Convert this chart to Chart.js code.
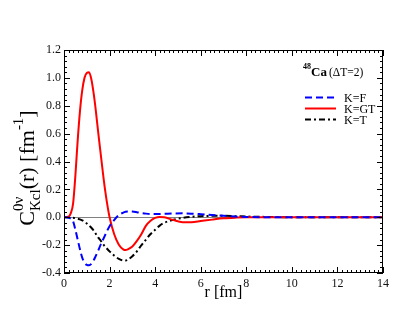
<!DOCTYPE html>
<html>
<head>
<meta charset="utf-8">
<script src="https://cdn.jsdelivr.net/npm/chart.js@4"></script>
<style>
  html, body { margin: 0; padding: 0; background: #fff; }
  #wrap { width: 415px; height: 321px; }
</style>
</head>
<body>
<div id="wrap"><canvas id="chart" width="415" height="321"></canvas></div>
<script>
// r grid [fm] and the three curves
const r = [0, 0.2, 0.3, 0.4, 0.5, 0.6, 0.7, 0.8, 0.9, 1.0, 1.1, 1.2, 1.3, 1.4, 1.5, 1.6, 1.7, 1.8, 1.9, 2.0,
           2.2, 2.4, 2.6, 2.7, 2.8, 3.0, 3.2, 3.4, 3.6, 3.8, 4.0, 4.2, 4.4, 4.8, 5.2, 5.6, 6.0, 6.5, 7.0, 7.5, 8.0,
           9, 10, 11, 12, 13, 14];
const kF = [0, -0.003, -0.01, -0.03, -0.09, -0.16, -0.23, -0.29, -0.325, -0.342, -0.345, -0.335, -0.31, -0.275, -0.24, -0.2, -0.165, -0.13, -0.095, -0.065,
            -0.02, 0.015, 0.033, 0.039, 0.042, 0.041, 0.036, 0.03, 0.026, 0.024, 0.024, 0.024, 0.025, 0.027, 0.028, 0.026, 0.022, 0.016, 0.01, 0.005, 0.002,
            0, 0, 0, 0, 0, 0];
const kGT = [0, 0.005, 0.03, 0.1, 0.3, 0.55, 0.76, 0.91, 1.0, 1.035, 1.04, 0.99, 0.89, 0.76, 0.61, 0.47, 0.33, 0.2, 0.09, 0.0,
             -0.12, -0.195, -0.23, -0.235, -0.23, -0.21, -0.17, -0.12, -0.06, -0.025, -0.005, 0.002, 0.0, -0.02, -0.035, -0.035, -0.027, -0.017, -0.008, -0.003, 0,
             0, 0, 0, 0, 0, 0];
const kT = [0, 0, -0.002, -0.004, -0.007, -0.011, -0.015, -0.022, -0.032, -0.045, -0.06, -0.075, -0.095, -0.12, -0.145, -0.165, -0.19, -0.21, -0.228, -0.245,
            -0.275, -0.298, -0.31, -0.31, -0.305, -0.28, -0.245, -0.2, -0.16, -0.12, -0.09, -0.06, -0.04, -0.018, -0.005, 0.003, 0.008, 0.01, 0.01, 0.008, 0.005,
            0.002, 0, 0, 0, 0, 0];

const seriesNames = ['K=F', 'K=GT', 'K=T'];
const seriesColors = ['#0000ff', '#ff0000', '#000000'];
const seriesDash = [[7, 4], [], [6, 3, 2, 3]];

const serif = "'Liberation Serif', 'DejaVu Serif', serif";

function pts(ys) { return r.map((x, i) => ({ x: x, y: ys[i] })); }

// frame, inward ticks, axis titles, annotation and legend
const decorations = {
  id: 'decorations',
  afterDraw(chart) {
    const ctx = chart.ctx;
    const a = chart.chartArea;
    const xs = chart.scales.x, ys = chart.scales.y;
    ctx.save();
    ctx.strokeStyle = '#000';
    ctx.lineWidth = 1;
    ctx.strokeRect(a.left + 0.5, a.top + 0.5, a.right - a.left - 1, a.bottom - a.top - 1);

    ctx.beginPath();
    // x ticks: major every 2, minor every 0.2
    for (let i = 0; i <= 70; i++) {
      const v = i * 0.2;
      const px = Math.round(xs.getPixelForValue(v)) + 0.5;
      const len = (i % 10 === 0) ? 6 : 3;
      ctx.moveTo(px, a.bottom); ctx.lineTo(px, a.bottom - len);
      ctx.moveTo(px, a.top); ctx.lineTo(px, a.top + len);
    }
    // y ticks: major every 0.2, minor every 0.04
    for (let i = 0; i <= 40; i++) {
      const v = -0.4 + i * 0.04;
      const py = Math.round(ys.getPixelForValue(v)) + 0.5;
      const len = (i % 5 === 0) ? 6 : 3;
      ctx.moveTo(a.left, py); ctx.lineTo(a.left + len, py);
      ctx.moveTo(a.right, py); ctx.lineTo(a.right - len, py);
    }
    ctx.stroke();

    ctx.fillStyle = '#000';
    // x title
    ctx.font = '16px ' + serif;
    ctx.textAlign = 'center';
    ctx.textBaseline = 'alphabetic';
    ctx.fillText('r [fm]', (a.left + a.right) / 2, 297);

    // y title, rotated, with super/subscripts
    const big = '22px ' + serif, small = '15px ' + serif;
    const runs = [
      { t: 'C', f: big, dy: 0 },
      { stack: [{ t: '0ν', f: small, dy: -11 }, { t: 'Kcl', f: small, dy: 6 }] },
      { t: '(r) [fm', f: big, dy: 0 },
      { t: '-1', f: small, dy: -11 },
      { t: ']', f: big, dy: 0 }
    ];
    let total = 0;
    runs.forEach(run => {
      if (run.stack) {
        run.w = Math.max(...run.stack.map(s => { ctx.font = s.f; return ctx.measureText(s.t).width; }));
      } else {
        ctx.font = run.f; run.w = ctx.measureText(run.t).width;
      }
      total += run.w;
    });
    ctx.translate(34, 168 + total / 2);
    ctx.rotate(-Math.PI / 2);
    ctx.textAlign = 'left';
    let cx = 0;
    runs.forEach(run => {
      const parts = run.stack || [run];
      parts.forEach(p => { ctx.font = p.f; ctx.fillText(p.t, cx, p.dy); });
      cx += run.w;
    });
    ctx.setTransform(1, 0, 0, 1, 0, 0);

    // 48Ca (ΔT=2)
    ctx.textAlign = 'left';
    ctx.font = 'bold 8px ' + serif;
    ctx.fillText('48', 303, 69);
    ctx.font = 'bold 13px ' + serif;
    ctx.fillText('Ca', 311, 76);
    ctx.font = '11.5px ' + serif;
    ctx.fillText('(ΔT=2)', 329, 76);

    // legend
    const ly = [97.5, 108.5, 119.5];
    ctx.lineWidth = 2;
    seriesNames.forEach((name, i) => {
      ctx.strokeStyle = seriesColors[i];
      ctx.setLineDash(seriesDash[i]);
      ctx.beginPath();
      ctx.moveTo(305, ly[i]); ctx.lineTo(336, ly[i]);
      ctx.stroke();
      ctx.setLineDash([]);
      ctx.font = '12px ' + serif;
      ctx.textBaseline = 'middle';
      ctx.fillStyle = '#000';
      ctx.fillText(name, 344, ly[i] + 1);
    });
    ctx.restore();
  }
};

const datasets = [kF, kGT, kT].map((ys, i) => ({
  label: seriesNames[i],
  data: pts(ys),
  borderColor: seriesColors[i],
  borderDash: seriesDash[i],
  borderWidth: 2,
  pointRadius: 0,
  fill: false,
  cubicInterpolationMode: 'monotone'
}));

new Chart(document.getElementById('chart'), {
  type: 'line',
  data: { datasets: datasets },
  options: {
    responsive: false,
    animation: false,
    events: [],
    layout: { padding: { top: 50, right: 32, left: 0, bottom: 0 } },
    plugins: { legend: { display: false }, tooltip: { enabled: false } },
    scales: {
      x: {
        type: 'linear',
        min: 0, max: 14,
        afterFit: s => { s.height = 48; },
        grid: { display: false, drawTicks: false },
        border: { display: false },
        ticks: {
          stepSize: 2, padding: 4,
          color: '#111',
          font: { family: serif, size: 12 },
          maxRotation: 0
        }
      },
      y: {
        type: 'linear',
        min: -0.4, max: 1.2,
        afterFit: s => { s.width = 64; },
        grid: {
          drawTicks: false,
          color: c => (c.tick && Math.abs(c.tick.value) < 1e-9) ? '#808080' : 'rgba(0,0,0,0)',
          lineWidth: 1
        },
        border: { display: false },
        ticks: {
          stepSize: 0.2, padding: 3,
          color: '#111',
          font: { family: serif, size: 12 },
          callback: v => Math.abs(v) < 1e-9 ? '0.0' : v.toFixed(1)
        }
      }
    }
  },
  plugins: [decorations]
});
</script>
</body>
</html>
